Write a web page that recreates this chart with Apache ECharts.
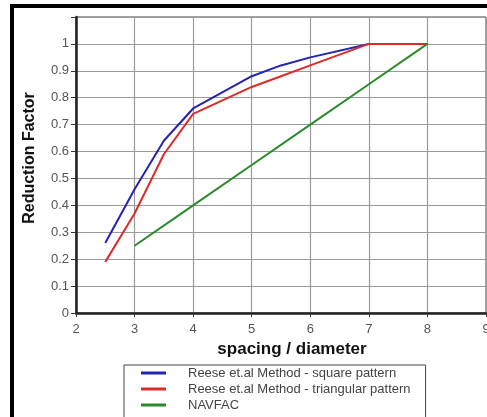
<!DOCTYPE html>
<html><head><meta charset="utf-8">
<script src="https://cdn.jsdelivr.net/npm/echarts@6/dist/echarts.min.js"></script>
<style>html,body{margin:0;padding:0;background:#fff}#c{width:487px;height:417px}</style>
</head><body><div id="c"></div>
<script>
const seriesNames = ['Reese et.al Method - square pattern', 'Reese et.al Method - triangular pattern', 'NAVFAC'];
const squareX = [2.5, 3, 3.5, 4, 5, 5.5, 6, 7, 8];
const squareY = [0.26, 0.46, 0.64, 0.76, 0.88, 0.92, 0.95, 1.0, 1.0];
const triX = [2.5, 3, 3.5, 4, 5, 5.5, 6, 7, 8];
const triY = [0.19, 0.37, 0.59, 0.74, 0.84, 0.88, 0.92, 1.0, 1.0];
const navX = [3, 4, 5, 6, 7, 8];
const navY = [0.25, 0.40, 0.55, 0.70, 0.85, 1.0];
const yTickLabels = ['0', '0.1', '0.2', '0.3', '0.4', '0.5', '0.6', '0.7', '0.8', '0.9', '1', ''];
const xAxisTitle = 'spacing / diameter';
const yAxisTitle = 'Reduction Factor';

const pair = (xs, ys) => xs.map((x, i) => [x, ys[i]]);
const colors = ['#2323b5', '#dd2a2a', '#2a8a2a'];
const font = 'Arial, "Liberation Sans", sans-serif';

const chart = echarts.init(document.getElementById('c'), null, {renderer: 'canvas'});
chart.setOption({
  animation: false,
  backgroundColor: '#fff',
  grid: {left: 76, top: 17, right: 1, bottom: 104, show: true, borderColor: '#444', borderWidth: 1,
         containLabel: false, outerBoundsMode: 'none'},
  xAxis: {
    type: 'value', min: 2, max: 9, interval: 1,
    name: xAxisTitle, nameLocation: 'middle', nameGap: 28,
    nameTextStyle: {fontFamily: font, fontWeight: 'bold', fontSize: 17, color: '#111', padding: [0, 0, 0, 22]},
    axisLine: {show: true, onZero: false, lineStyle: {color: '#222', width: 2.5}},
    axisTick: {show: true, length: 4, lineStyle: {color: '#333'}},
    axisLabel: {fontFamily: font, fontSize: 13, color: '#555', margin: 10},
    splitLine: {show: true, lineStyle: {color: '#9a9a9a', width: 1.2}}
  },
  yAxis: {
    type: 'value', min: 0, max: 1.1, interval: 0.1,
    name: yAxisTitle, nameLocation: 'middle', nameGap: 38,
    nameTextStyle: {fontFamily: font, fontWeight: 'bold', fontSize: 16, color: '#111', padding: [0, 0, 0, 14]},
    axisLine: {show: true, onZero: false, lineStyle: {color: '#222', width: 2.5}},
    axisTick: {show: true, length: 5, lineStyle: {color: '#333'}},
    axisLabel: {fontFamily: font, fontSize: 13, color: '#555', margin: 7,
      formatter: (v) => yTickLabels[Math.round(v * 10)] ?? ''},
    splitLine: {show: true, lineStyle: {color: '#9a9a9a', width: 1.2}}
  },
  legend: {
    orient: 'vertical', left: 124, top: 365, height: 90,
    borderColor: '#444', borderWidth: 1,
    padding: [1, 15, 12, 17], itemGap: 2,
    itemWidth: 25, itemHeight: 3, icon: 'rect',
    textStyle: {fontFamily: font, fontSize: 13, color: '#444', lineHeight: 14, padding: [0, 0, 0, 17]},
    data: seriesNames
  },
  graphic: [{
    type: 'rect', shape: {x: 12, y: 6, width: 520, height: 440},
    style: {fill: 'none', stroke: '#000', lineWidth: 4}, z: 100, silent: true
  }],
  series: [
    {name: seriesNames[0], type: 'line', data: pair(squareX, squareY), showSymbol: false, symbol: 'none', lineStyle: {color: colors[0], width: 2}, itemStyle: {color: colors[0]}, z: 3},
    {name: seriesNames[1], type: 'line', data: pair(triX, triY), showSymbol: false, symbol: 'none', lineStyle: {color: colors[1], width: 2}, itemStyle: {color: colors[1]}, z: 4},
    {name: seriesNames[2], type: 'line', data: pair(navX, navY), showSymbol: false, symbol: 'none', lineStyle: {color: colors[2], width: 2}, itemStyle: {color: colors[2]}, z: 5}
  ]
});
</script></body></html>
